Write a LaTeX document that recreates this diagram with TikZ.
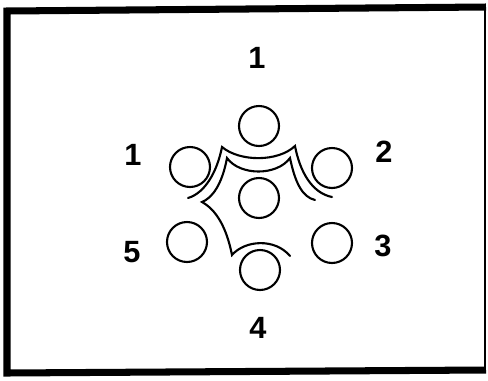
\documentclass[tikz,border=0pt]{standalone}
\usepackage{fontspec}
\setmainfont{Liberation Sans}
\usetikzlibrary{positioning}

\tikzset{
  hole/.style={draw, circle, line width=1.2pt, minimum size=0.8cm, inner sep=0pt},
  num/.style={font=\fontsize{17.5}{17.5}\selectfont\bfseries, inner sep=0pt},
  seam/.style={line width=1.2pt, line cap=round, line join=miter}
}

\begin{document}
\begin{tikzpicture}[x=0.02cm, y=-0.02cm]
        \useasboundingbox (0,0) rectangle (488,380);
        % frame
        \draw[line width=4pt, line join=miter] (486,7) -- (7,11) -- (7,373) -- (486,370);
        \draw[line width=1.6pt] (485,6) -- (485,371);
        % seven holes
        \node[hole] (top) at (259,126) {};
        \node[hole] (ul) at (190,167) {};
        \node[hole] (ur) at (332,168) {};
        \node[hole] (mid) at (259,198) {};
        \node[hole] (ll) at (187,242) {};
        \node[hole] (lr) at (332,243) {};
        \node[hole] (bot) at (260,270) {};
        % labels
        \node[num] (ltop) at (257,58) {1};
        \node[num] (lul) at (133,155) {1};
        \node[num] (lur) at (384,152) {2};
        \node[num] (lll) at (132,252) {5};
        \node[num] (llr) at (383,246) {3};
        \node[num] (lbot) at (258,328) {4};
        % outer seam
        \draw[seam] (188,198) .. controls (205,193) and (217,172) .. (222,147)
          .. controls (240,162) and (278,162) .. (295,146)
          .. controls (300,172) and (312,193) .. (332,197);
        % inner seam
        \draw[seam] (315,200) .. controls (302,197) and (295,182) .. (290,158)
          .. controls (277,176) and (240,176) .. (227,158)
          .. controls (222,185) and (212,198) .. (202,202)
          .. controls (220,212) and (228,235) .. (232,255)
          .. controls (245,240) and (275,238) .. (290,256);
\end{tikzpicture}
\end{document}
